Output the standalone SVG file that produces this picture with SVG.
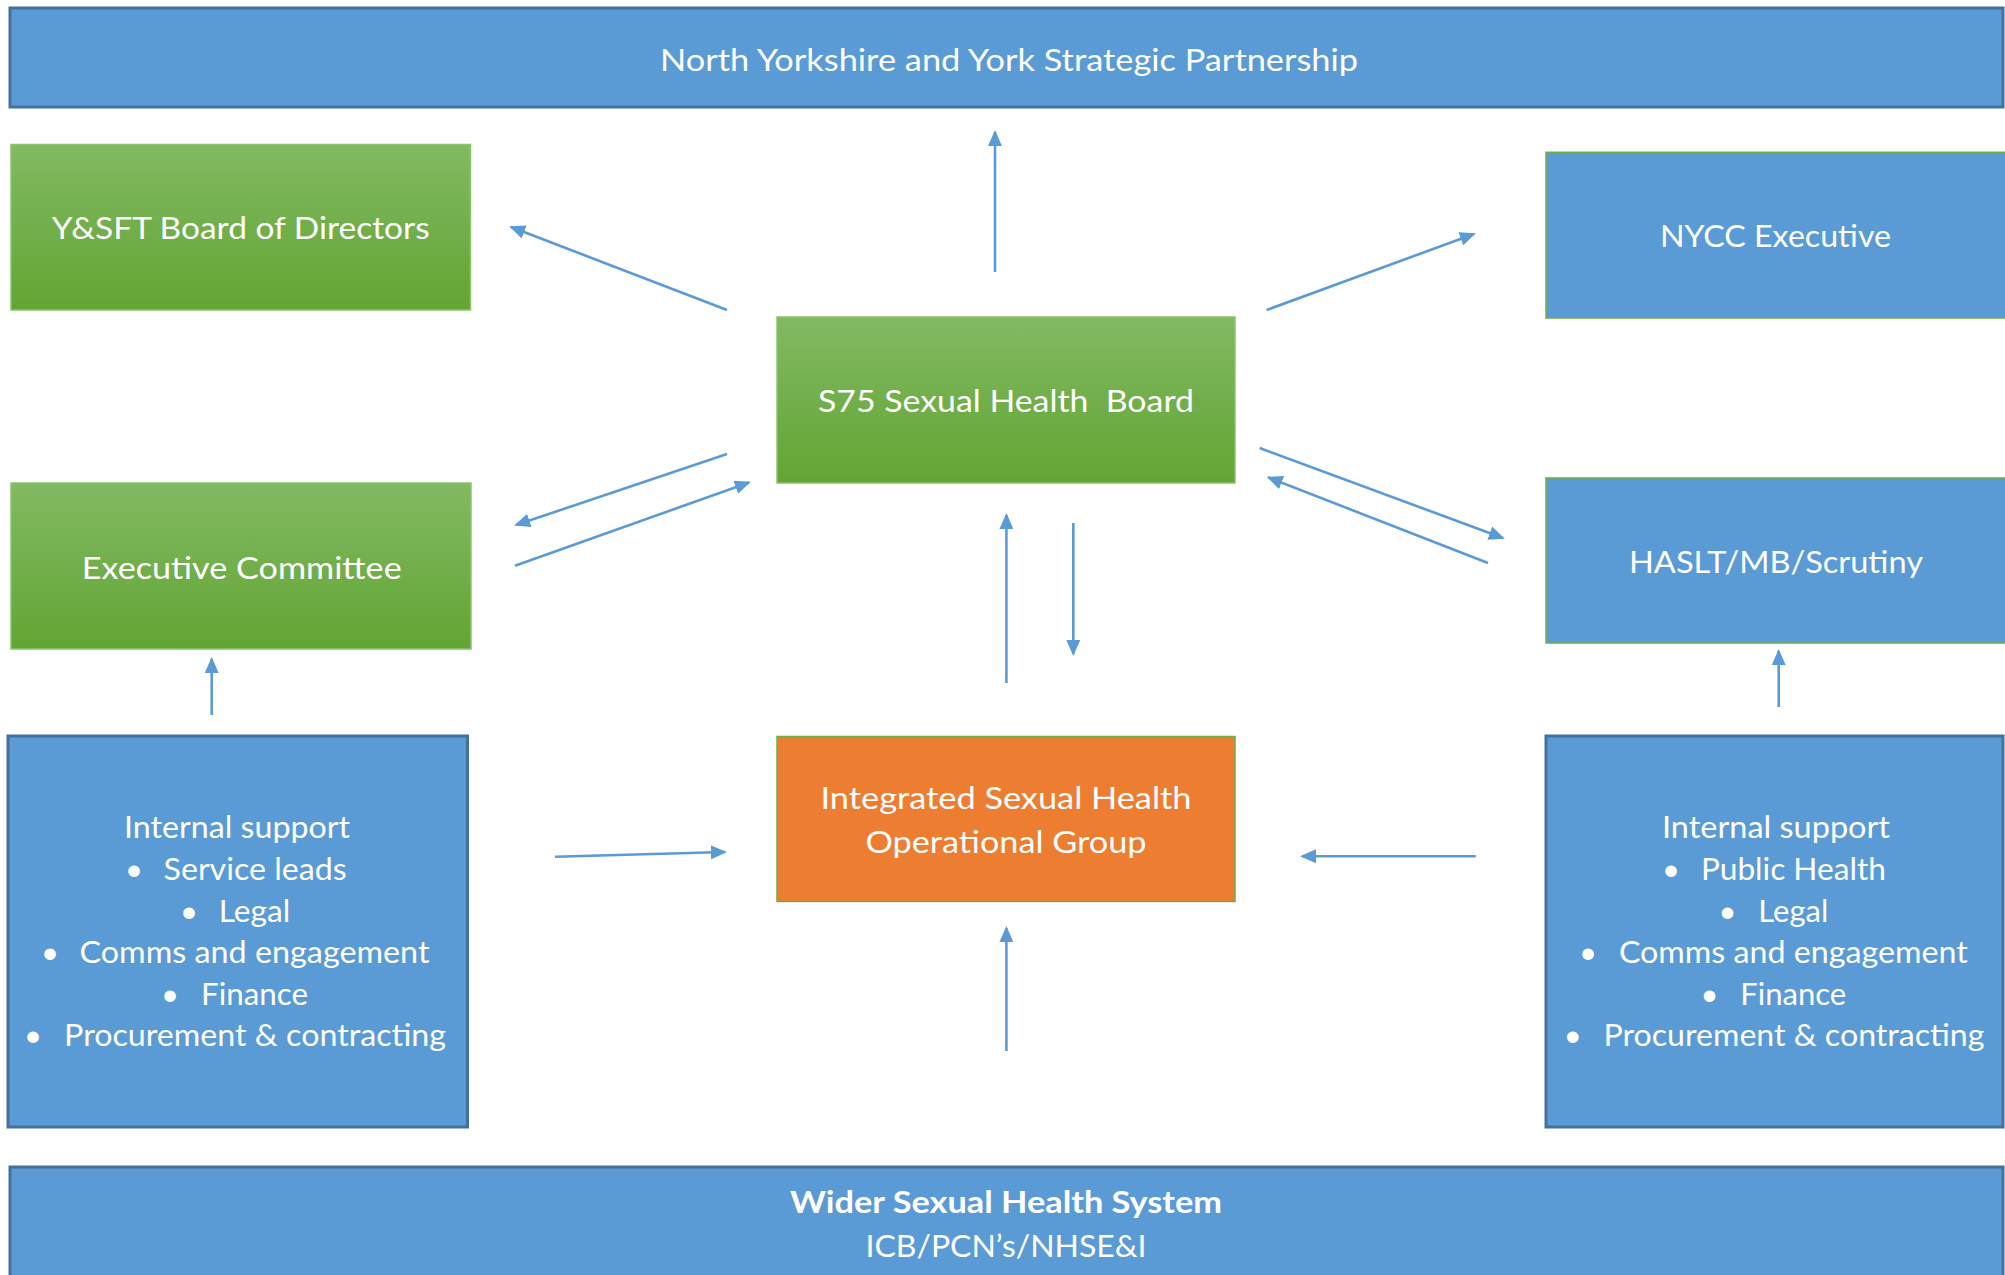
<svg xmlns="http://www.w3.org/2000/svg" width="2005" height="1275" viewBox="0 0 2005 1275">
<style>
.t{font-family:Lato,"Open Sans","Liberation Sans",sans-serif;font-size:31px;fill:#ffffff;text-anchor:middle}
.b{font-weight:bold}
.blue{fill:#5B9BD5;stroke:#41719C;stroke-width:3}
.blueg{fill:#5B9BD5;stroke:#70AD47;stroke-width:1.5}
.green{fill:url(#gg);stroke:#8CC46C;stroke-width:1.5}
.orange{fill:#ED7D31;stroke:#70AD47;stroke-width:1.5}
.c line{stroke:#5B9BD5;stroke-width:2.6;fill:none;marker-end:url(#ah)}
</style>
<defs>
<linearGradient id="gg" x1="0" y1="0" x2="0" y2="1">
<stop offset="0" stop-color="#82B962"/>
<stop offset="1" stop-color="#62A534"/>
</linearGradient>
<marker id="ah" viewBox="0 0 10 10" refX="8.8" refY="5" markerUnits="userSpaceOnUse" markerWidth="16" markerHeight="14" orient="auto" preserveAspectRatio="none">
<path d="M0,0 L10,5 L0,10 z" fill="#5B9BD5"/>
</marker>
</defs>
<rect width="2005" height="1275" fill="#ffffff"/>

<g id="partnership">
<rect class="blue" x="10" y="8" width="1993" height="99" stroke-width="2.5"/>
<text class="t" x="1009" y="70.7" textLength="698" lengthAdjust="spacingAndGlyphs">North Yorkshire and York Strategic Partnership</text>
</g>

<g id="ysft-board">
<rect class="green" x="11" y="144.5" width="459.5" height="165.5"/>
<text class="t" x="240.7" y="239.3" textLength="378" lengthAdjust="spacingAndGlyphs">Y&amp;SFT Board of Directors</text>
</g>

<g id="nycc-exec">
<rect class="blueg" x="1546" y="152.3" width="470" height="165.7"/>
<text class="t" x="1775.5" y="247.3" textLength="231" lengthAdjust="spacingAndGlyphs">NYCC Executive</text>
</g>

<g id="s75-board">
<rect class="green" x="777" y="317" width="458" height="166"/>
<text class="t" x="1006" y="411.5" textLength="376" lengthAdjust="spacingAndGlyphs" xml:space="preserve">S75 Sexual Health  Board</text>
</g>

<g id="exec-committee">
<rect class="green" x="11" y="483" width="460" height="166"/>
<text class="t" x="241.7" y="579" textLength="320" lengthAdjust="spacingAndGlyphs">Executive Committee</text>
</g>

<g id="haslt">
<rect class="blueg" x="1546" y="478" width="470" height="165"/>
<text class="t" x="1776" y="573.3" textLength="294" lengthAdjust="spacingAndGlyphs">HASLT/MB/Scrutiny</text>
</g>

<g id="op-group">
<rect class="orange" x="777" y="736.5" width="458" height="165"/>
<text class="t" x="1006" y="809.3" textLength="371" lengthAdjust="spacingAndGlyphs">Integrated Sexual Health</text>
<text class="t" x="1006" y="853.3" textLength="281" lengthAdjust="spacingAndGlyphs">Operational Group</text>
</g>

<g id="internal-left">
<rect class="blue" x="8" y="736" width="459.5" height="391"/>
<text class="t" x="237" y="838.3" textLength="226" lengthAdjust="spacingAndGlyphs">Internal support</text>
<text class="t" x="134" y="879.9">•</text>
<text class="t" x="255.1" y="879.9" textLength="183" lengthAdjust="spacingAndGlyphs">Service leads</text>
<text class="t" x="189" y="921.5">•</text>
<text class="t" x="254.5" y="921.5" textLength="71.6" lengthAdjust="spacingAndGlyphs">Legal</text>
<text class="t" x="50" y="963.1">•</text>
<text class="t" x="254.5" y="963.1" textLength="350" lengthAdjust="spacingAndGlyphs">Comms and engagement</text>
<text class="t" x="170" y="1004.7">•</text>
<text class="t" x="254.5" y="1004.7" textLength="107" lengthAdjust="spacingAndGlyphs">Finance</text>
<text class="t" x="33" y="1046.3">•</text>
<text class="t" x="255.1" y="1046.3" textLength="382" lengthAdjust="spacingAndGlyphs">Procurement &amp; contracting</text>
</g>

<g id="internal-right">
<rect class="blue" x="1546" y="736" width="457" height="391"/>
<text class="t" x="1776" y="838.3" textLength="228" lengthAdjust="spacingAndGlyphs">Internal support</text>
<text class="t" x="1671" y="879.9">•</text>
<text class="t" x="1793.4" y="879.9" textLength="185" lengthAdjust="spacingAndGlyphs">Public Health</text>
<text class="t" x="1727.5" y="921.5">•</text>
<text class="t" x="1793.3" y="921.5" textLength="70" lengthAdjust="spacingAndGlyphs">Legal</text>
<text class="t" x="1588" y="963.1">•</text>
<text class="t" x="1793.4" y="963.1" textLength="349" lengthAdjust="spacingAndGlyphs">Comms and engagement</text>
<text class="t" x="1709.6" y="1004.7">•</text>
<text class="t" x="1793.2" y="1004.7" textLength="106" lengthAdjust="spacingAndGlyphs">Finance</text>
<text class="t" x="1572.8" y="1046.3">•</text>
<text class="t" x="1794" y="1046.3" textLength="381" lengthAdjust="spacingAndGlyphs">Procurement &amp; contracting</text>
</g>

<g id="wider-system">
<rect class="blue" x="10" y="1167" width="1993" height="120"/>
<text class="t b" x="1006" y="1212.7" textLength="432" lengthAdjust="spacingAndGlyphs">Wider Sexual Health System</text>
<text class="t" x="1006" y="1257.3" textLength="281" lengthAdjust="spacingAndGlyphs">ICB/PCN’s/NHSE&amp;I</text>
</g>

<g id="connectors" class="c">
<line x1="995" y1="272" x2="995" y2="132"/>
<line x1="727" y1="310" x2="511" y2="227"/>
<line x1="1266.6" y1="310" x2="1474" y2="234"/>
<line x1="727" y1="454" x2="516" y2="525"/>
<line x1="515" y1="565.7" x2="749" y2="482.5"/>
<line x1="1259.6" y1="448" x2="1503" y2="538"/>
<line x1="1488" y1="563" x2="1268.5" y2="477.5"/>
<line x1="1006.4" y1="683" x2="1006.4" y2="515"/>
<line x1="1073.3" y1="523" x2="1073.3" y2="654"/>
<line x1="211.7" y1="715" x2="211.7" y2="659"/>
<line x1="1778.7" y1="707" x2="1778.7" y2="651"/>
<line x1="555" y1="856.7" x2="725" y2="852"/>
<line x1="1475.8" y1="856.3" x2="1302" y2="856.3"/>
<line x1="1006.4" y1="1051" x2="1006.4" y2="928"/>
</g>
</svg>
